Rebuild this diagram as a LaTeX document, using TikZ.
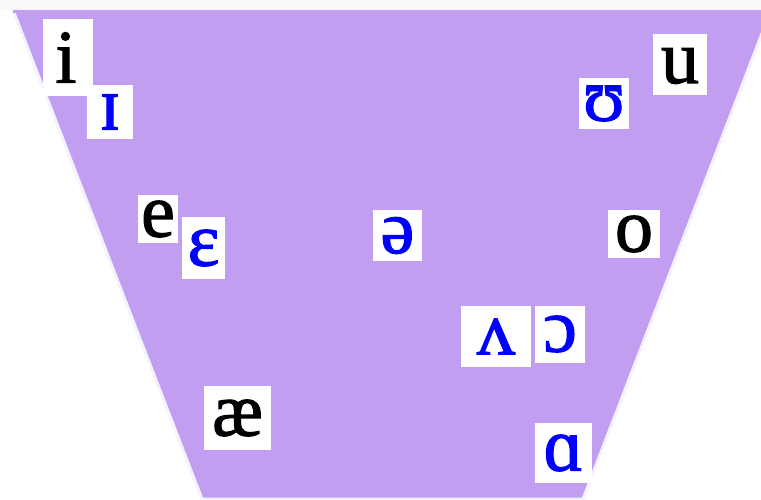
\documentclass[tikz,border=0pt]{standalone}
\usepackage{fontspec}
\setmainfont{Liberation Serif}
\newfontfamily\ipafont[FakeBold=1.5]{Liberation Serif}
\definecolor{trap}{RGB}{193,158,240}
\definecolor{rim}{RGB}{245,242,255}
\definecolor{topstrip}{RGB}{250,250,252}
\definecolor{ipablue}{RGB}{0,0,255}
\tikzset{
  vbox/.style={fill=white, inner sep=0pt, font=\ipafont\fontsize{76}{76}\selectfont},
  blk/.style={vbox, text=black},
  blu/.style={vbox, text=ipablue}
}
\begin{document}
\begin{tikzpicture}[x=1pt,y=-1pt]
\useasboundingbox (0,0) rectangle (761,499);
\clip (0,0) rectangle (761,499);
\fill[white] (0,0) rectangle (761,499);
\fill[topstrip] (0,0) rectangle (761,10);
\filldraw[fill=trap, draw=rim, line width=3pt] (13,10) -- (771,10) -- (583,499) -- (202,499) -- cycle;
\fill[trap] (13,10) rectangle (761,13);
% boxes
\fill[white] (43,19) rectangle (93,96);
\fill[white] (87,85) rectangle (133,139);
\fill[white] (653,34) rectangle (707,95);
\fill[white] (579,78) rectangle (629,129);
\fill[white] (138,195) rectangle (178,243);
\fill[white] (182,217) rectangle (225,279);
\fill[white] (373,210) rectangle (422,261);
\fill[white] (608,210) rectangle (660,258);
\fill[white] (461,306) rectangle (531,367);
\fill[white] (535,306) rectangle (585,363);
\fill[white] (204,386) rectangle (271,450);
\fill[white] (535,423) rectangle (592,483);
% letters
\node[blk] (i) at (66,57.5) {i};
\node[blu] (ih) at (110,112) {ɪ};
\node[blk] (u) at (680,66) {u};
\node[blu] (uh) at (604,103.5) {ʊ};
\node[blk] (e) at (158,219) {e};
\node[blu] (eh) at (203.5,248) {ɛ};
\node[blu] (schwa) at (397.5,235.5) {ə};
\node[blk] (o) at (634,234) {o};
\node[blu] (wedge) at (496,336.5) {ʌ};
\node[blu] (openo) at (560,334) {ɔ};
\node[blk] (ae) at (237.5,418) {æ};
\node[blu] (alpha) at (563.5,453) {ɑ};
\end{tikzpicture}
\end{document}
